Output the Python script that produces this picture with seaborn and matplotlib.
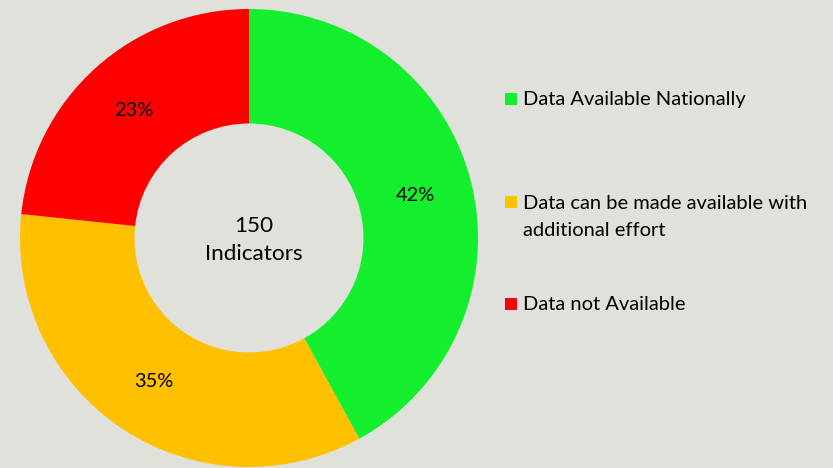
import matplotlib.pyplot as plt
from matplotlib.patches import Rectangle
import seaborn as sns

categories = ["Data Available Nationally",
              "Data can be made available with\nadditional effort",
              "Data not Available"]
indicator_counts = [63, 52, 35]   # of 150 indicators -> 42%, 35%, 23%
colors = ["#13EF2D", "#FFC000", "#FF0000"]
total_indicators = sum(indicator_counts)

BG = "#E0E1DB"

sns.set_theme(style="white")
plt.rcParams['font.family'] = ['Lato', 'DejaVu Sans']

fig = plt.figure(figsize=(8.33, 4.68), dpi=100)
fig.patch.set_facecolor(BG)

W, H = 833, 468
cx, cy, r = 249, 238, 229
ax = fig.add_axes([(cx - r) / W, (H - cy - r) / H, 2 * r / W, 2 * r / H])
ax.set_facecolor(BG)

wedges, texts, autotexts = ax.pie(
    indicator_counts, colors=colors, startangle=90, counterclock=False,
    radius=1.0, autopct=lambda p: f"{p:.0f}%", pctdistance=0.75,
    wedgeprops=dict(width=0.5, edgecolor="none"),
    textprops=dict(fontsize=14.4, color="black"))
ax.set_xlim(-1, 1)
ax.set_ylim(-1, 1)
ax.set_aspect("equal")
ax.axis("off")

ax.text(0.02, -0.01, f"{total_indicators}\nIndicators", ha="center", va="center",
        fontsize=16.2, linespacing=1.5, color="black")

# legend drawn by hand so the square sits on the first line of each label
legend_y = [99, 202, 304]
for lab, col, ly in zip(categories, colors, legend_y):
    fig.patches.append(Rectangle((505 / W, (H - ly - 6) / H), 12 / W, 12 / H,
                                 transform=fig.transFigure, facecolor=col,
                                 edgecolor="none"))
    if "\n" in lab:
        fig.text(523 / W, (H - ly + 7) / H, lab, ha="left", va="top",
                 fontsize=14.5, linespacing=1.7, color="black")
    else:
        fig.text(523 / W, (H - ly) / H, lab, ha="left", va="center",
                 fontsize=14.5, color="black")

fig.savefig("out.png", dpi=100, facecolor=BG)
